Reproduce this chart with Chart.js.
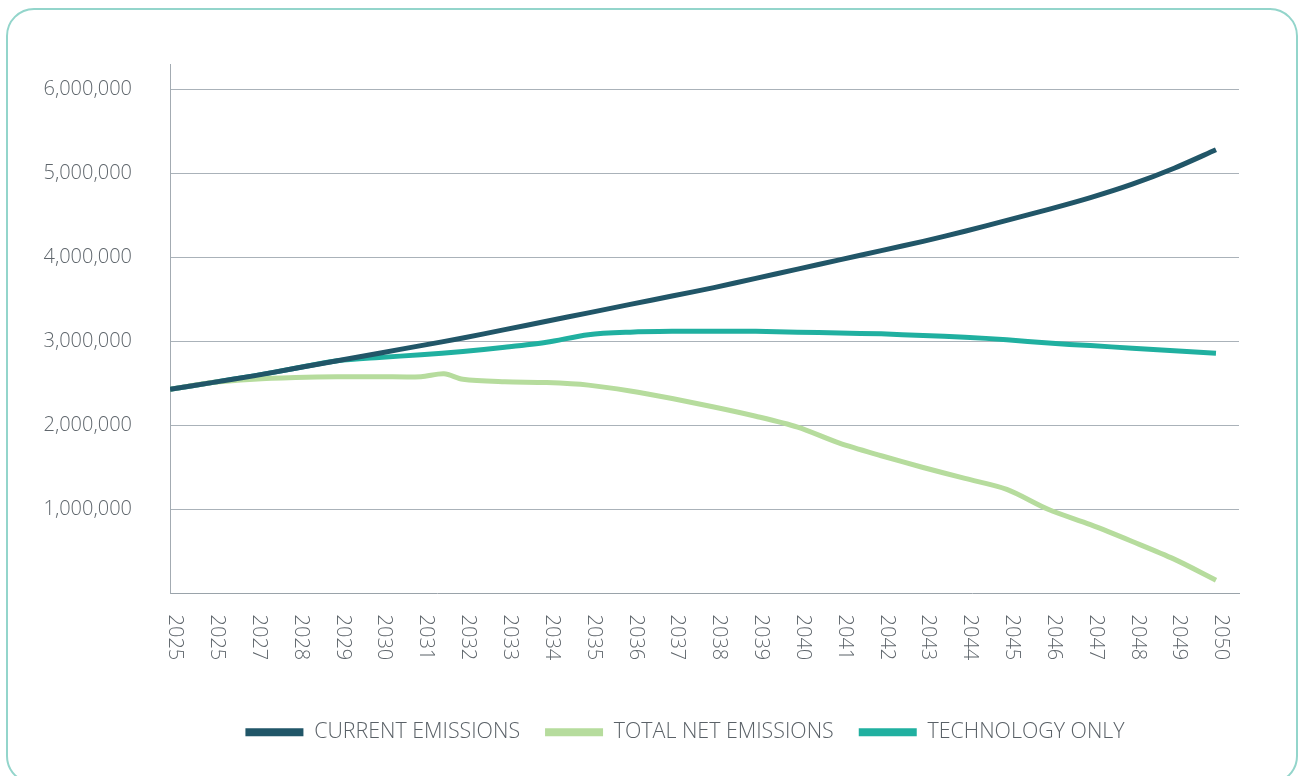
<!DOCTYPE html>
<html>
<head>
<meta charset="utf-8">
<script src="https://cdn.jsdelivr.net/npm/chart.js@4/dist/chart.umd.min.js"></script>
<style>
    html, body { margin: 0; padding: 0; background: #fff; overflow: hidden; }
    #frame {
        position: absolute; left: 6px; top: 8px; width: 1292px; height: 776px;
        box-sizing: border-box; border: 2px solid #93d5cb; border-radius: 28px;
    }
    #wrap { position: absolute; left: 0; top: 0; width: 1298px; height: 776px; }
</style>
</head>
<body>
<div id="frame"></div>
<div id="wrap"><canvas id="emissions-graph"></canvas></div>
<script>
var years = ['2025', '2025', '2027', '2028', '2029', '2030', '2031', '2032', '2033', '2034',
    '2035', '2036', '2037', '2038', '2039', '2040', '2041', '2042', '2043', '2044',
    '2045', '2046', '2047', '2048', '2049', '2050'];

var currentEmissions = [2430000, 2510000, 2590000, 2680000, 2770000, 2860000, 2950000, 3040000,
    3140000, 3240000, 3340000, 3440000, 3540000, 3640000, 3750000, 3860000, 3970000, 4080000,
    4190000, 4310000, 4440000, 4570000, 4710000, 4870000, 5060000, 5280000];

var totalNetEmissions = [2430000, 2510000, 2550000, 2570000, 2580000, 2580000, 2580000, 2550000,
    2520000, 2510000, 2480000, 2410000, 2320000, 2220000, 2110000, 1980000, 1790000, 1640000,
    1500000, 1370000, 1240000, 1000000, 820000, 620000, 410000, 160000];

var technologyOnly = [2430000, 2510000, 2590000, 2680000, 2770000, 2810000, 2840000, 2880000,
    2930000, 2990000, 3080000, 3110000, 3120000, 3120000, 3120000, 3110000, 3100000, 3090000,
    3070000, 3050000, 3020000, 2980000, 2950000, 2920000, 2890000, 2860000];

// small bump on the net line, between 2031 and 2032
var netBumpAt = 6.55;
var netBumpValue = 2615000;

var yTicks = [1000000, 2000000, 3000000, 4000000, 5000000, 6000000];

var textColor = '#5f666c';

function toPoints(values) {
    return values.map(function (v, i) { return {x: i, y: v}; });
}

var netPoints = toPoints(totalNetEmissions);
netPoints.push({x: netBumpAt, y: netBumpValue});
netPoints.sort(function (a, b) { return a.x - b.x; });

Chart.defaults.font.family = "'Open Sans', 'Noto Sans', sans-serif";
Chart.defaults.font.weight = '300';

// year labels read top to bottom, which the built-in rotation can't do
var yearLabels = {
    id: 'yearLabels',
    afterLayout: function (chart) {
        // legend sits a bit right of the page centre in the original
        chart.legend.left += 131;
    },
    afterDraw: function (chart) {
        var x = chart.scales.x;
        var c = chart.ctx;
        c.save();
        c.font = "300 20px 'Open Sans', 'Noto Sans', sans-serif";
        c.fillStyle = textColor;
        c.textAlign = 'left';
        c.textBaseline = 'middle';
        years.forEach(function (label, i) {
            c.save();
            c.translate(x.getPixelForValue(i) + 5, x.top + 21);
            c.rotate(Math.PI / 2);
            c.fillText(label, 0, 0);
            c.restore();
        });
        c.restore();
    }
};

var ctx = document.getElementById('emissions-graph').getContext('2d');

new Chart(ctx, {
    type: 'line',
    data: {
        datasets: [{
            label: 'CURRENT EMISSIONS',
            data: toPoints(currentEmissions),
            borderColor: '#215668',
            backgroundColor: '#215668',
            borderWidth: 5,
            pointRadius: 0,
            tension: 0.3
        }, {
            label: 'TOTAL NET EMISSIONS',
            data: netPoints,
            borderColor: '#b6dc9d',
            backgroundColor: '#b6dc9d',
            borderWidth: 5,
            pointRadius: 0,
            tension: 0.3
        }, {
            label: 'TECHNOLOGY ONLY',
            data: toPoints(technologyOnly),
            borderColor: '#20b0a0',
            backgroundColor: '#20b0a0',
            borderWidth: 5,
            pointRadius: 0,
            tension: 0.3
        }]
    },
    options: {
        responsive: true,
        maintainAspectRatio: false,
        animation: false,
        layout: {
            padding: {top: 64, right: 59, bottom: 23, left: 0}
        },
        scales: {
            x: {
                type: 'linear',
                min: 0,
                max: 25.55,
                afterBuildTicks: function (scale) {
                    scale.ticks = years.map(function (y, i) { return {value: i}; });
                },
                afterFit: function (scale) { scale.height = 103; },
                grid: {display: false},
                border: {display: true, color: '#9aa3aa', width: 1},
                ticks: {display: false}
            },
            y: {
                min: 0,
                max: 6300000,
                afterBuildTicks: function (scale) {
                    scale.ticks = yTicks.map(function (v) { return {value: v}; });
                },
                afterFit: function (scale) { scale.width = 170; },
                grid: {color: '#aab2b9', drawTicks: false},
                border: {display: true, color: '#a3abb2', width: 1},
                ticks: {
                    padding: 38,
                    color: textColor,
                    font: {size: 20},
                    callback: function (value) { return value.toLocaleString('en-US'); }
                }
            }
        },
        plugins: {
            legend: {
                position: 'bottom',
                labels: {
                    boxWidth: 58,
                    boxHeight: 8,
                    padding: 25,
                    color: '#5a6167',
                    font: {size: 21.4},
                    generateLabels: function (chart) {
                        return Chart.defaults.plugins.legend.labels.generateLabels(chart).map(function (l) {
                            l.lineWidth = 0;
                            return l;
                        });
                    }
                }
            },
            tooltip: {enabled: false}
        }
    },
    plugins: [yearLabels]
});
</script>
</body>
</html>
